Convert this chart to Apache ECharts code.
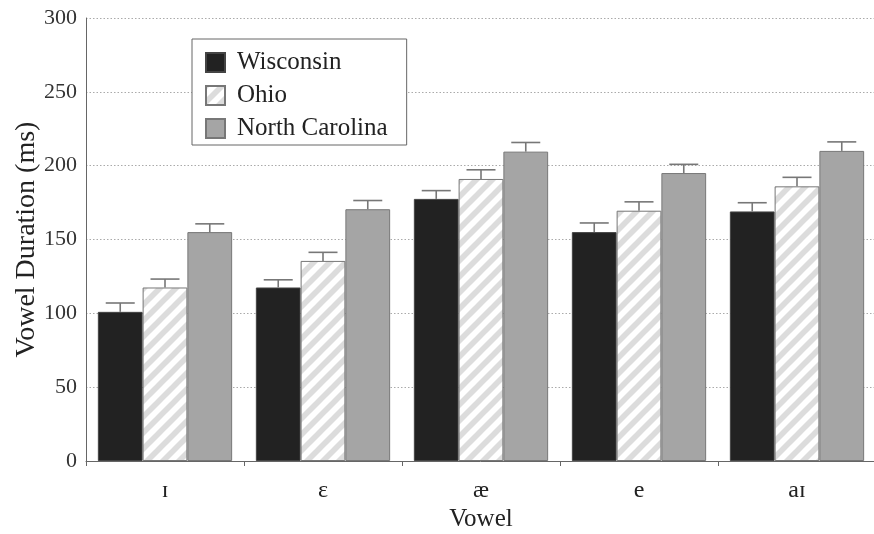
<!DOCTYPE html>
<html>
<head>
<meta charset="utf-8">
<script src="https://cdn.jsdelivr.net/npm/echarts@6/dist/echarts.min.js"></script>
<style>html,body{margin:0;padding:0;background:#fff;}#c{width:874px;height:534px;}</style>
</head>
<body>
<div id="c"></div>
<script>
const categories = ['ɪ', 'ɛ', 'æ', 'e', 'aɪ'];
const seriesNames = ['Wisconsin', 'Ohio', 'North Carolina'];
const wisconsin = [101, 117.5, 177.5, 155, 169];
const ohio = [117.5, 135.5, 191, 169.5, 186];
const northCarolina = [155, 170.5, 209.5, 195, 210];
const wisconsinErr = [6, 5.2, 5.6, 6.2, 5.9];
const ohioErr = [5.7, 5.8, 6.2, 6.0, 6.1];
const northCarolinaErr = [5.6, 5.9, 6.2, 5.9, 6.1];
const yTicks = [0, 50, 100, 150, 200, 250, 300];

const FONT = '"Liberation Serif", "DejaVu Serif", serif';

function hatch() {
  const s = 16;
  const cv = document.createElement('canvas');
  cv.width = s; cv.height = s;
  const ctx = cv.getContext('2d');
  ctx.fillStyle = '#ffffff';
  ctx.fillRect(0, 0, s, s);
  ctx.strokeStyle = '#dcdcdc';
  ctx.lineWidth = 5.6;
  [0, s, 2 * s].forEach(c => {
    ctx.beginPath();
    ctx.moveTo(-2, c + 2);
    ctx.lineTo(c + 2, -2);
    ctx.stroke();
  });
  return cv;
}

const values = [wisconsin, ohio, northCarolina];
const errs = [wisconsinErr, ohioErr, northCarolinaErr];
const fills = ['#222222', { image: hatch(), repeat: 'repeat' }, '#a5a5a5'];
const borders = ['#444444', '#777777', '#777777'];
const catGap = 0.15;

const barSeries = seriesNames.map((n, i) => ({
  name: n,
  type: 'bar',
  data: values[i],
  barGap: '0%',
  barCategoryGap: (catGap * 100) + '%',
  itemStyle: { color: fills[i], borderColor: borders[i], borderWidth: 1 },
  z: 2
}));

const errData = [];
values.forEach((arr, si) => arr.forEach((v, ci) => errData.push([ci, v, v + errs[si][ci], si])));

const errSeries = {
  type: 'custom',
  name: 'err',
  z: 5,
  data: errData,
  renderItem: function (params, api) {
    const ci = api.value(0), lo = api.value(1), hi = api.value(2), si = api.value(3);
    const band = api.size([1, 0])[0];
    const bw = band * (1 - catGap) / 3;
    const base = api.coord([ci, lo]);
    const top = api.coord([ci, hi]);
    const x = base[0] + (si - 1) * bw;
    const capHalf = 14.5;
    const style = { stroke: '#777777', lineWidth: 1.6 };
    return {
      type: 'group',
      children: [
        { type: 'line', shape: { x1: x, y1: base[1], x2: x, y2: top[1] }, style: style },
        { type: 'line', shape: { x1: x - capHalf, y1: top[1], x2: x + capHalf, y2: top[1] }, style: style }
      ]
    };
  },
  encode: { x: 0, y: [1, 2] },
  silent: true
};

const chart = echarts.init(document.getElementById('c'), null, { renderer: 'canvas' });
chart.setOption({
  animation: false,
  backgroundColor: '#ffffff',
  textStyle: { fontFamily: FONT },
  grid: { left: 86, right: -2, top: 18, bottom: 73, containLabel: false, outerBoundsMode: 'none' },
  legend: {
    data: seriesNames,
    orient: 'vertical',
    left: 192,
    top: 39,
    padding: [11, 19, 4, 13],
    itemWidth: 19,
    itemHeight: 19,
    itemGap: 8,
    borderColor: '#666666',
    borderWidth: 1,
    backgroundColor: '#ffffff',
    icon: 'rect',
    textStyle: { fontFamily: FONT, fontSize: 25, lineHeight: 24, color: '#222222', padding: [0, 0, 0, 7] }
  },
  xAxis: {
    type: 'category',
    data: categories,
    name: 'Vowel',
    nameLocation: 'middle',
    nameGap: 46,
    nameMoveOverlap: false,
    nameTextStyle: { fontFamily: FONT, fontSize: 25, color: '#222222' },
    axisLine: { lineStyle: { color: '#666666', width: 1 } },
    axisTick: { show: true, length: 5, lineStyle: { color: '#666666' } },
    axisLabel: { fontFamily: FONT, fontSize: 24, color: '#222222', margin: 18 },
    splitLine: { show: false }
  },
  yAxis: {
    type: 'value',
    min: 0,
    max: 300,
    interval: 50,
    name: 'Vowel Duration (ms)',
    nameLocation: 'middle',
    nameGap: 45,
    nameMoveOverlap: false,
    nameTextStyle: { fontFamily: FONT, fontSize: 28, color: '#222222' },
    axisLine: { show: true, lineStyle: { color: '#666666', width: 1 } },
    axisTick: { show: false },
    axisLabel: {
      fontFamily: FONT, fontSize: 22, color: '#333333', margin: 9,
      formatter: v => yTicks.includes(v) ? String(v) : ''
    },
    splitLine: { show: true, lineStyle: { color: '#aaaaaa', type: [1.5, 2], width: 1 } }
  },
  series: [...barSeries, errSeries]
});
</script>
</body>
</html>
